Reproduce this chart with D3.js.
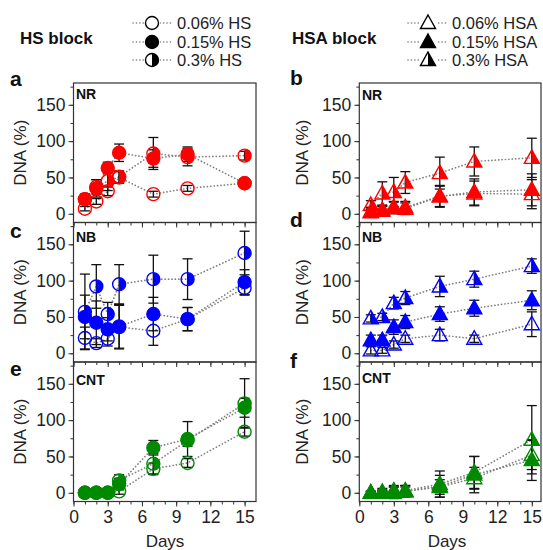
<!DOCTYPE html>
<html><head><meta charset="utf-8">
<script src="https://cdn.jsdelivr.net/npm/d3@7"></script>
<style>body{margin:0;background:#fff;} text{font-family:"Liberation Sans",Arial,sans-serif;}</style>
</head><body>
<script>
// ---------- data ----------
const days = [1, 2, 3, 4, 7, 10, 15];
const hsLabels = ["0.06% HS", "0.15% HS", "0.3% HS"];
const hsaLabels = ["0.06% HSA", "0.15% HSA", "0.3% HSA"];
const fillTypes = ["open", "filled", "half"];
const xTicks = [0, 3, 6, 9, 12, 15];
const yTicks = [0, 50, 100, 150];

// a: NR, HS
const nrHS006 = [7, 17, 31, 50, 27, 35, 42];
const nrHS006Err = [3, 4, 6, 8, 4, 4, 4];
const nrHS015 = [20, 35, 63, 84, 76, 82, 42];
const nrHS015Err = [7, 12, 8, 12, 12, 10, 5];
const nrHS03 = [20, 37, 45, 51, 83, 78, 80];
const nrHS03Err = [7, 10, 13, 8, 22, 12, 6];
// b: NR, HSA
const nrHSA006 = [3, 5, 8, 7, 24, 28, 27];
const nrHSA006Err = [6, 6, 8, 8, 14, 17, 20];
const nrHSA015 = [2, 4, 9, 9, 24, 30, 33];
const nrHSA015Err = [6, 6, 8, 8, 15, 18, 22];
const nrHSA03 = [12, 28, 30, 43, 56, 72, 77];
const nrHSA03Err = [6, 16, 20, 15, 22, 20, 27];
// c: NB, HS
const nbHS006 = [21, 14, 20, 36, 31, 47, 90];
const nbHS006Err = [15, 6, 10, 30, 20, 16, 10];
const nbHS015 = [50, 42, 33, 37, 54, 47, 98];
const nbHS015Err = [30, 30, 16, 30, 23, 16, 17];
const nbHS03 = [57, 92, 54, 95, 102, 102, 138];
const nbHS03Err = [52, 30, 16, 27, 33, 28, 30];
// d: NB, HSA
const nbHSA006 = [4, 4, 12, 20, 25, 20, 40];
const nbHSA006Err = [5, 4, 5, 5, 8, 5, 17];
const nbHSA015 = [18, 18, 36, 43, 54, 62, 73];
const nbHSA015Err = [7, 7, 10, 9, 10, 11, 13];
const nbHSA03 = [48, 50, 69, 76, 92, 102, 120];
const nbHSA03Err = [5, 5, 8, 9, 14, 11, 10];
// e: CNT, HS
const cntHS006 = [0, 0, 0, 2, 33, 41, 84];
const cntHS006Err = [2, 2, 2, 4, 8, 6, 6];
const cntHS015 = [0, 0, 0, 12, 62, 74, 117];
const cntHS015Err = [2, 2, 3, 8, 10, 24, 13];
const cntHS03 = [0, 0, 0, 17, 40, 72, 123];
const cntHS03Err = [2, 2, 3, 8, 14, 8, 34];
// f: CNT, HSA
const cntHSA006 = [0, 0, 2, 2, 8, 20, 52];
const cntHSA006Err = [2, 3, 6, 6, 10, 15, 20];
const cntHSA015 = [0, 0, 0, 2, 9, 25, 45];
const cntHSA015Err = [2, 6, 8, 8, 15, 25, 28];
const cntHSA03 = [0, 1, 3, 3, 12, 28, 73];
const cntHSA03Err = [2, 3, 7, 7, 18, 22, 47];

const RED = "#ff0000", BLUE = "#0000ff", GREEN = "#008a00";

const panels = [
  {col:0,row:0,letter:"a",name:"NR",color:RED,shape:"circle",
   s:[[nrHS006,nrHS006Err],[nrHS015,nrHS015Err],[nrHS03,nrHS03Err]]},
  {col:1,row:0,letter:"b",name:"NR",color:RED,shape:"tri",
   s:[[nrHSA006,nrHSA006Err],[nrHSA015,nrHSA015Err],[nrHSA03,nrHSA03Err]]},
  {col:0,row:1,letter:"c",name:"NB",color:BLUE,shape:"circle",
   s:[[nbHS006,nbHS006Err],[nbHS015,nbHS015Err],[nbHS03,nbHS03Err]]},
  {col:1,row:1,letter:"d",name:"NB",color:BLUE,shape:"tri",
   s:[[nbHSA006,nbHSA006Err],[nbHSA015,nbHSA015Err],[nbHSA03,nbHSA03Err]]},
  {col:0,row:2,letter:"e",name:"CNT",color:GREEN,shape:"circle",
   s:[[cntHS006,cntHS006Err],[cntHS015,cntHS015Err],[cntHS03,cntHS03Err]]},
  {col:1,row:2,letter:"f",name:"CNT",color:GREEN,shape:"tri",
   s:[[cntHSA006,cntHSA006Err],[cntHSA015,cntHSA015Err],[cntHSA03,cntHSA03Err]]}
];

// ---------- layout ----------
const svg = d3.select("body").append("svg").attr("width",543).attr("height",550);
const cols = [
  {x: d3.scaleLinear().domain([0,16]).range([73.5,256]), ylab:20, letterX:10, nameX:76, daysX:165},
  {x: d3.scaleLinear().domain([0,15.8]).range([359.3,541]), ylab:302, letterX:290, nameX:362, daysX:447}
];
const rowTop = [83, 222.5, 362], rowH = 139.5;
const letterY = [[86,85],[238,227],[376,368]];
const nameY = [[99,100],[242,242],[385,383]];
const minorX = d3.range(0,16,1), minorY = d3.range(-0,180,25);
const AX = "#333";

function drawMarker(g, shape, cx, cy, type, color) {
  const fillOpen = "none";
  if (shape === "circle") {
    const r = 6.5;
    g.append("circle").attr("cx",cx).attr("cy",cy).attr("r",r)
      .attr("fill", type==="filled"?color:fillOpen).attr("stroke",color).attr("stroke-width",1.4);
    if (type==="half")
      g.append("path").attr("d",`M${cx},${cy-r}A${r},${r} 0 0 1 ${cx},${cy+r}Z`).attr("fill",color);
  } else {
    const w = 7.5, t = cy-8, b = cy+5.5;
    g.append("path").attr("d",`M${cx},${t}L${cx+w},${b}L${cx-w},${b}Z`)
      .attr("fill", type==="filled"?color:fillOpen).attr("stroke",color).attr("stroke-width",1.4)
      .attr("stroke-linejoin","miter");
    if (type==="half")
      g.append("path").attr("d",`M${cx},${t}L${cx+w},${b}L${cx},${b}Z`).attr("fill",color);
  }
}

panels.forEach(p => {
  const c = cols[p.col];
  const x = c.x;
  const top = rowTop[p.row];
  const y = d3.scaleLinear().domain([-12,180]).range([top+rowH, top]);
  const g = svg.append("g");
  const x0 = x.range()[0], x1 = x.range()[1];

  // dotted lines
  const line = d3.line().x((d,i)=>x(days[i])).y(d=>y(d));
  p.s.forEach(([vals]) => {
    g.append("path").attr("d", line(vals)).attr("fill","none")
      .attr("stroke","#7f7f7f").attr("stroke-width",1.7)
      .attr("stroke-dasharray","0.1,3.3").attr("stroke-linecap","round");
  });
  // error bars
  p.s.forEach(([vals, errs]) => {
    vals.forEach((v,i) => {
      const cx = x(days[i]), yt = y(v+errs[i]), yb = y(v-errs[i]);
      g.append("line").attr("x1",cx).attr("x2",cx).attr("y1",yt).attr("y2",yb).attr("stroke","#111").attr("stroke-width",1.3);
      [yt,yb].forEach(yy => g.append("line").attr("x1",cx-5).attr("x2",cx+5).attr("y1",yy).attr("y2",yy).attr("stroke","#111").attr("stroke-width",1.3));
    });
  });
  // markers
  p.s.forEach(([vals], si) => {
    vals.forEach((v,i) => drawMarker(g, p.shape, x(days[i]), y(v), fillTypes[si], p.color));
  });

  // axes
  const yAx = g.append("g").attr("transform",`translate(${x0},0)`)
    .call(d3.axisLeft(y).tickValues(yTicks).tickSize(5).tickPadding(3));
  const yMin = g.append("g").attr("transform",`translate(${x0},0)`)
    .call(d3.axisLeft(y).tickValues(minorY).tickSize(3).tickFormat(""));
  const xAx = g.append("g").attr("transform",`translate(0,${top+rowH})`)
    .call(d3.axisBottom(x).tickValues(xTicks).tickSize(5).tickPadding(4)
      .tickFormat(p.row===2 ? d3.format("d") : ""));
  const xMin = g.append("g").attr("transform",`translate(0,${top+rowH})`)
    .call(d3.axisBottom(x).tickValues(minorX).tickSize(3).tickFormat(""));
  [yAx,yMin,xAx,xMin].forEach(a => {
    a.select(".domain").remove();
    a.selectAll("line").attr("stroke",AX).attr("stroke-width",1);
    a.selectAll("text").attr("fill","#222").style("font-size","17.5px")
      .style("font-family","'Liberation Sans',Arial,sans-serif");
  });
  g.append("rect").attr("x",x0).attr("y",top).attr("width",x1-x0).attr("height",rowH)
    .attr("fill","none").attr("stroke",AX).attr("stroke-width",1.2);

  // labels
  g.append("text").attr("x",c.letterX).attr("y",letterY[p.row][p.col]).text(p.letter)
    .style("font-size","21px").style("font-weight","bold").attr("fill","#111");
  g.append("text").attr("x",c.nameX).attr("y",nameY[p.row][p.col]).text(p.name)
    .style("font-size","14px").style("font-weight","bold").attr("fill","#111");
  g.append("text").attr("transform",`translate(${c.ylab+6},${top+rowH/2}) rotate(-90)`)
    .attr("text-anchor","middle").text("DNA (%)").style("font-size","17px").attr("fill","#222");
  if (p.row===2)
    g.append("text").attr("x",c.daysX).attr("y",547).attr("text-anchor","middle")
      .text("Days").style("font-size","17px").attr("fill","#222");
});

// ---------- legends ----------
const legends = [
  {title:"HS block", tx:20, labels:hsLabels, shape:"circle", lx0:133, lx1:172, sx:152, textX:177},
  {title:"HSA block", tx:292, labels:hsaLabels, shape:"tri", lx0:408, lx1:447, sx:428, textX:452}
];
const legRows = [23, 42, 60];
legends.forEach(L => {
  svg.append("text").attr("x",L.tx).attr("y",44).text(L.title)
    .style("font-size","17px").style("font-weight","bold").attr("fill","#111");
  L.labels.forEach((lab,i) => {
    const yy = legRows[i];
    svg.append("line").attr("x1",L.lx0).attr("x2",L.lx1).attr("y1",yy).attr("y2",yy)
      .attr("stroke","#7f7f7f").attr("stroke-width",1.6).attr("stroke-dasharray","0.1,3.3").attr("stroke-linecap","round");
    const gg = svg.append("g");
    gg.append("rect").attr("x",L.sx-8).attr("y",yy-8).attr("width",16).attr("height",16).attr("fill","#fff");
    drawMarker(gg, L.shape, L.sx, yy, fillTypes[i], "#000");
    svg.append("text").attr("x",L.textX).attr("y",yy+6).text(lab)
      .style("font-size","16.5px").attr("fill","#222");
  });
});
</script>
</body></html>
